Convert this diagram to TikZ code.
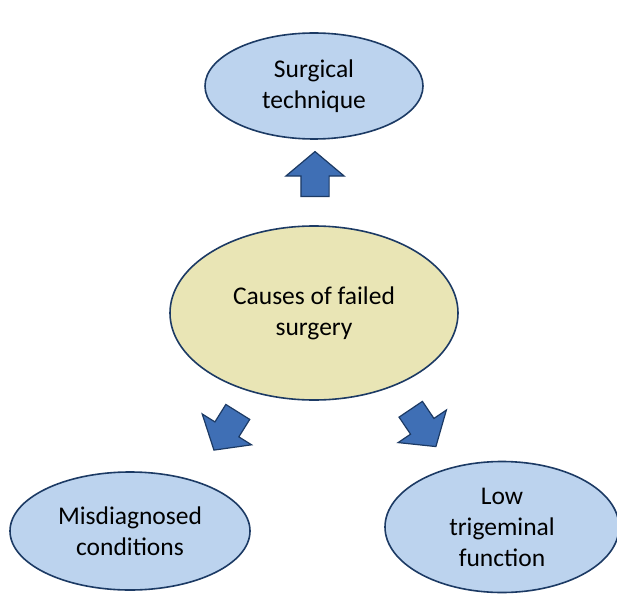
\documentclass[tikz,border=0pt]{standalone}
\usepackage{fontspec}
\setmainfont{Carlito}
\usetikzlibrary{shapes.geometric,shapes.arrows}
\definecolor{edgeblue}{HTML}{1C3A64}
\definecolor{bubbleblue}{HTML}{BCD3EE}
\definecolor{hubyellow}{HTML}{E9E5B5}
\definecolor{arrowblue}{HTML}{3F6FB5}

\begin{document}
\begin{tikzpicture}[
  x=1pt, y=-1pt,
  bubble/.style={ellipse, draw=edgeblue, line width=1.6pt, fill=bubbleblue, align=center, inner sep=0pt, font=\fontsize{25.5}{31}\selectfont},
  hub/.style={bubble, fill=hubyellow},
  barrow/.style={single arrow, draw=edgeblue, line width=1.2pt, fill=arrowblue, inner xsep=0pt, inner ysep=13.5pt, single arrow head extend=15pt, single arrow tip angle=100, minimum height=45pt}
]
\useasboundingbox (0,0) rectangle (617,593);
\node[hub, minimum width=288pt, minimum height=174pt] (cause) at (314,313) {Causes of failed\\surgery};
\node[bubble, minimum width=218pt, minimum height=106pt] (surg) at (314,86) {Surgical\\technique};
\node[bubble, minimum width=240pt, minimum height=118pt] (misd) at (130,531) {Misdiagnosed\\conditions};
\node[bubble, minimum width=234pt, minimum height=131pt] (trig) at (502,527) {Low\\trigeminal\\function};
% block arrows
\node[barrow, rotate=90] (up) at (315,180) {};
\node[barrow, rotate=238] (left) at (229,426) {};
\node[barrow, rotate=-56] (right) at (420,423) {};
\end{tikzpicture}
\end{document}
